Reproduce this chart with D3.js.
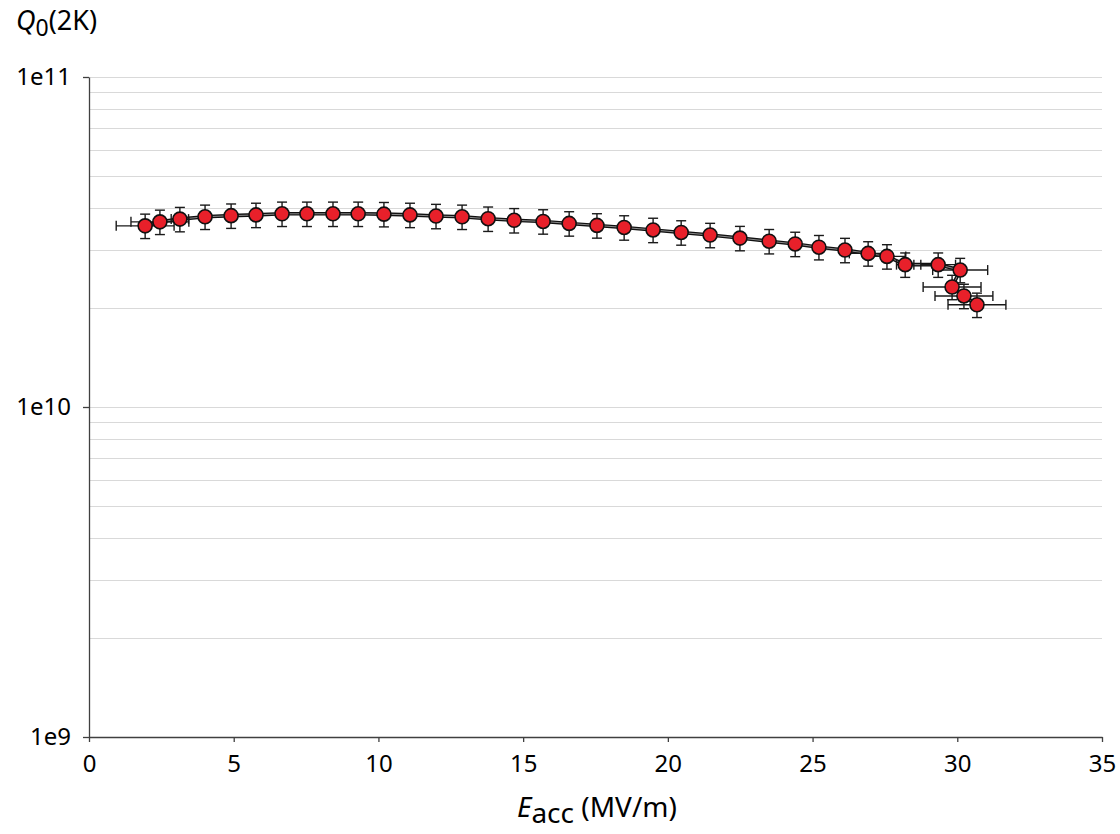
<!DOCTYPE html>
<html lang="en">
<head>
    <meta charset="UTF-8">
    <title>Q0 vs Eacc</title>
    <script src="https://cdn.jsdelivr.net/npm/d3@7"></script>
    <style>
        body { margin: 0; background: #fff; }
        text { font-family: "Noto Sans", "Open Sans", sans-serif; fill: #000; }
    </style>
</head>
<body>
<script>
    // gradient in MV/m, quality factor at 2K
    let eacc = [1.94, 2.45, 3.14, 4.01, 4.91, 5.77, 6.67, 7.53, 8.43, 9.30,
                10.19, 11.09, 11.99, 12.89, 13.79, 14.69, 15.69, 16.59, 17.55, 18.49,
                19.49, 20.46, 21.46, 22.49, 23.50, 24.40, 25.22, 26.12, 26.92, 27.57,
                28.20, 29.34, 30.10, 29.82, 30.23, 30.68];
    let q0 = [3.54e10, 3.64e10, 3.71e10, 3.77e10, 3.80e10, 3.82e10, 3.85e10, 3.85e10, 3.85e10, 3.85e10,
              3.84e10, 3.82e10, 3.79e10, 3.77e10, 3.72e10, 3.68e10, 3.65e10, 3.60e10, 3.55e10, 3.50e10,
              3.44e10, 3.38e10, 3.32e10, 3.25e10, 3.18e10, 3.12e10, 3.05e10, 2.99e10, 2.92e10, 2.86e10,
              2.70e10, 2.70e10, 2.60e10, 2.31e10, 2.17e10, 2.04e10];
    // horizontal error (MV/m)
    let eaccErr = [1.0, 1.0, 0.3, 0, 0, 0, 0, 0, 0, 0,
                   0, 0, 0, 0, 0, 0, 0, 0, 0, 0,
                   0, 0, 0, 0, 0, 0, 0, 0, 0.65, 0.65,
                   0.3, 0.6, 0.95, 1.0, 1.0, 1.0];
    // relative error on Q0
    let q0Err = [0.085, 0.085, 0.085, 0.085, 0.085, 0.085, 0.085, 0.085, 0.085, 0.085,
                 0.085, 0.085, 0.085, 0.085, 0.085, 0.085, 0.085, 0.085, 0.085, 0.085,
                 0.085, 0.085, 0.085, 0.085, 0.085, 0.085, 0.085, 0.085, 0.085, 0.085,
                 0.085, 0.085, 0.085, 0.085, 0.085, 0.085];

    let xTicks = [0, 5, 10, 15, 20, 25, 30, 35];
    let yTicks = [1e9, 1e10, 1e11];
    let yTickLabels = ["1e9", "1e10", "1e11"];

    let width = 1120, height = 834;
    let plotLeft = 89, plotRight = 1102, plotTop = 77, plotBottom = 737;

    let data = eacc.map(function (e, i) {
        return {x: e, y: q0[i], ex: eaccErr[i], ey: q0Err[i]};
    });

    let svg = d3.select("body").append("svg")
        .attr("width", width)
        .attr("height", height);

    let xScale = d3.scaleLinear().domain([0, 35]).range([plotLeft, plotRight]);
    let yScale = d3.scaleLog().domain([1e9, 1e11]).range([plotBottom, plotTop]);

    // log grid lines (major + minor)
    let gridVals = [];
    [1e9, 1e10].forEach(function (dec) {
        for (let k = 1; k <= 9; k++) gridVals.push(dec * k);
    });
    gridVals.push(1e11);

    svg.append("g").selectAll("line")
        .data(gridVals.filter(function (v) { return v > 1e9; }))
        .enter().append("line")
        .attr("x1", plotLeft).attr("x2", plotRight)
        .attr("y1", function (d) { return Math.round(yScale(d)) + 0.5; })
        .attr("y2", function (d) { return Math.round(yScale(d)) + 0.5; })
        .attr("stroke", "#d9d9d9")
        .attr("stroke-width", 1);

    // axes
    let xAxis = d3.axisBottom(xScale).tickValues(xTicks).tickSize(5).tickSizeOuter(0).tickPadding(13);
    let gx = svg.append("g")
        .attr("transform", "translate(0," + plotBottom + ")")
        .call(xAxis);

    let yAxis = d3.axisLeft(yScale).tickValues(yTicks)
        .tickFormat(function (d, i) { return yTickLabels[i]; })
        .tickSize(6).tickSizeOuter(0).tickPadding(12);
    let gy = svg.append("g")
        .attr("transform", "translate(" + plotLeft + ",0)")
        .call(yAxis);

    [gx, gy].forEach(function (g) {
        g.select(".domain").attr("stroke", "#404040").attr("stroke-width", 1.3);
        g.selectAll(".tick line").attr("stroke", "#404040").attr("stroke-width", 1.3);
        g.selectAll("text")
            .attr("font-size", "24px")
            .attr("fill", "#000")
            .style("font-family", '"Noto Sans", sans-serif');
    });

    // connecting line, double stroke look
    let line = d3.line()
        .x(function (d) { return xScale(d.x); })
        .y(function (d) { return yScale(d.y); });

    svg.append("path")
        .attr("d", line(data))
        .attr("fill", "none")
        .attr("stroke", "#111")
        .attr("stroke-width", 3.6);
    svg.append("path")
        .attr("d", line(data))
        .attr("fill", "none")
        .attr("stroke", "#8a8a8a")
        .attr("stroke-width", 1);

    // error bars
    let err = svg.append("g").attr("stroke", "#1a1a1a").attr("stroke-width", 1.4);
    let cap = 5;

    data.forEach(function (d) {
        let cx = xScale(d.x), cy = yScale(d.y);
        let yTop = yScale(d.y * (1 + d.ey)), yBot = yScale(d.y * (1 - d.ey));
        err.append("line").attr("x1", cx).attr("x2", cx).attr("y1", yTop).attr("y2", yBot);
        err.append("line").attr("x1", cx - cap).attr("x2", cx + cap).attr("y1", yTop).attr("y2", yTop);
        err.append("line").attr("x1", cx - cap).attr("x2", cx + cap).attr("y1", yBot).attr("y2", yBot);
        if (d.ex > 0) {
            let xl = xScale(d.x - d.ex), xr = xScale(d.x + d.ex);
            err.append("line").attr("x1", xl).attr("x2", xr).attr("y1", cy).attr("y2", cy);
            err.append("line").attr("x1", xl).attr("x2", xl).attr("y1", cy - cap).attr("y2", cy + cap);
            err.append("line").attr("x1", xr).attr("x2", xr).attr("y1", cy - cap).attr("y2", cy + cap);
        }
    });

    // markers
    svg.append("g").selectAll("circle")
        .data(data)
        .enter().append("circle")
        .attr("cx", function (d) { return xScale(d.x); })
        .attr("cy", function (d) { return yScale(d.y); })
        .attr("r", 7)
        .attr("fill", "#e8202a")
        .attr("stroke", "#111")
        .attr("stroke-width", 1.6);

    // axis titles
    let yTitle = svg.append("text")
        .attr("x", 16)
        .attr("y", 30)
        .attr("font-size", "27px");
    yTitle.append("tspan").attr("font-style", "italic").text("Q");
    yTitle.append("tspan").attr("dy", 6).attr("font-size", "23px").text("0");
    yTitle.append("tspan").attr("dy", -6).text("(2K)");

    let xTitle = svg.append("text")
        .attr("x", 517)
        .attr("y", 817)
        .attr("font-size", "28px");
    xTitle.append("tspan").attr("font-style", "italic").text("E");
    xTitle.append("tspan").attr("dy", 6).text("acc");
    xTitle.append("tspan").attr("dy", -6).text(" (MV/m)");
</script>
</body>
</html>
